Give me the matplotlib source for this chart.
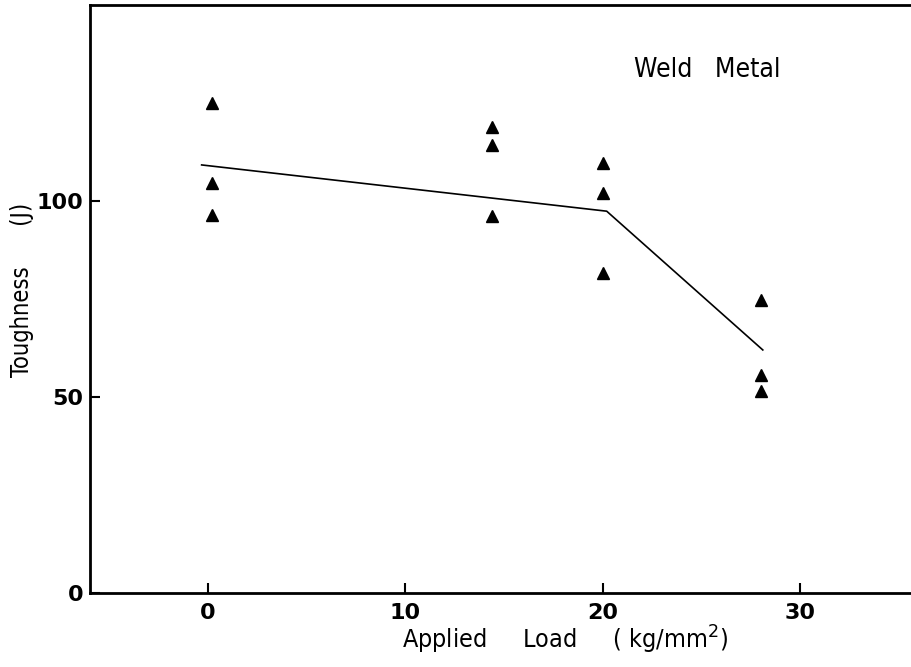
import matplotlib
matplotlib.use("Agg")
import matplotlib.pyplot as plt

# --- data ---
load_x = [0.2, 0.2, 0.2, 14.4, 14.4, 14.4, 20.0, 20.0, 20.0, 28.0, 28.0, 28.0]
tough_y = [125, 104.6, 96.5, 119, 114.2, 96.3, 109.6, 102, 81.7, 74.7, 55.6, 51.6]

trend_x = [-0.3, 20.2, 28.1]
trend_y = [109.2, 97.4, 62.0]

xticks = [0, 10, 20, 30]
yticks = [0, 50, 100]

font = dict(family="DejaVu Sans", stretch="condensed")

fig = plt.figure(figsize=(9.11, 6.67), dpi=100)
ax = fig.add_axes([90 / 911, 1 - 593 / 667, 1 - 90 / 911, (593 - 5) / 667])

ax.plot(trend_x, trend_y, color="black", lw=1.2)
ax.plot(load_x, tough_y, linestyle="none", marker="^", ms=9, color="black")

ax.set_xlim(-5.95, 35.6)
ax.set_ylim(0, 150)
ax.set_xticks(xticks)
ax.set_yticks(yticks)

ax.spines["right"].set_visible(False)
for s in ("left", "bottom", "top"):
    ax.spines[s].set_linewidth(2)

ax.tick_params(direction="in", length=7, width=1.5)
ax.tick_params(axis="x", pad=7)
ax.tick_params(axis="y", pad=5)
for lab in ax.get_xticklabels() + ax.get_yticklabels():
    lab.set_fontsize(16)
    lab.set_fontweight("bold")
    lab.set_fontfamily("DejaVu Sans")

ax.text(21.6, 133.3, "Weld   Metal", fontsize=19, va="center", ha="left", **font)

fig.text(565 / 911, 1 - 640 / 667, "Applied     Load     ( kg/mm$^2$)",
         fontsize=18, ha="center", va="center", **font)
fig.text(22 / 911, 1 - 290 / 667, "Toughness      (J)", fontsize=17,
         rotation=90, ha="center", va="center", **font)

fig.savefig("out.png", dpi=100)
